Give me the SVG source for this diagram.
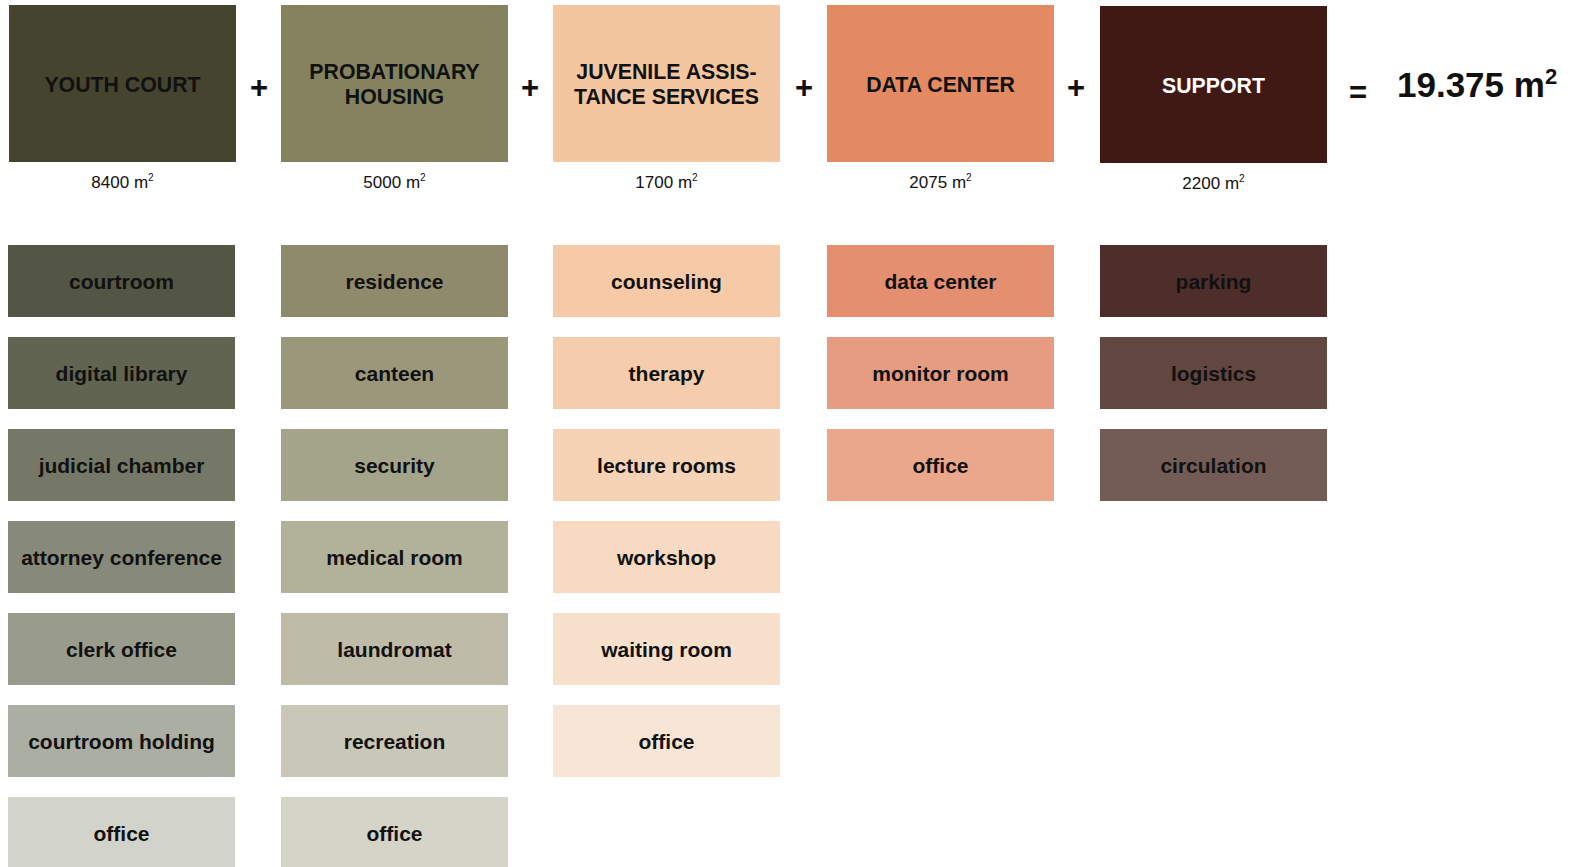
<svg xmlns="http://www.w3.org/2000/svg" width="1572" height="867" viewBox="0 0 1572 867">
<style>
text{font-family:"Liberation Sans",Arial,sans-serif;fill:#111;text-anchor:middle}
.h{font-size:21.3px;font-weight:bold}
.s{font-size:21px;font-weight:bold}
.a{font-size:17px}
.op{font-size:31px;font-weight:bold}
.tot{font-size:35px;font-weight:bold;text-anchor:start}
</style>
<rect width="1572" height="867" fill="#fff"/>
<g id="youth-court">
<rect x="9" y="5" width="227" height="157" fill="#45452f"/>
<text class="h" x="122.5" y="91.5">YOUTH COURT</text>
<text class="a" x="122.5" y="188">8400 m<tspan font-size="10" dy="-7">2</tspan></text>
</g>
<g id="probationary-housing">
<rect x="281" y="5" width="227" height="157" fill="#85835f"/>
<text class="h" x="394.5" y="79">PROBATIONARY</text>
<text class="h" x="394.5" y="104">HOUSING</text>
<text class="a" x="394.5" y="188">5000 m<tspan font-size="10" dy="-7">2</tspan></text>
</g>
<g id="juvenile-assistance">
<rect x="553" y="5" width="227" height="157" fill="#f4c6a0"/>
<text class="h" x="666.5" y="79">JUVENILE ASSIS-</text>
<text class="h" x="666.5" y="104">TANCE SERVICES</text>
<text class="a" x="666.5" y="188">1700 m<tspan font-size="10" dy="-7">2</tspan></text>
</g>
<g id="data-center">
<rect x="827" y="5" width="227" height="157" fill="#e38a62"/>
<text class="h" x="940.5" y="91.5">DATA CENTER</text>
<text class="a" x="940.5" y="188">2075 m<tspan font-size="10" dy="-7">2</tspan></text>
</g>
<g id="support">
<rect x="1100" y="6" width="227" height="157" fill="#411914"/>
<text class="h" x="1213.5" y="92.5" style="fill:#fff">SUPPORT</text>
<text class="a" x="1213.5" y="189">2200 m<tspan font-size="10" dy="-7">2</tspan></text>
</g>
<g id="operators">
<text class="op" x="259" y="98">+</text>
<text class="op" x="530" y="98">+</text>
<text class="op" x="804" y="98">+</text>
<text class="op" x="1076" y="98">+</text>
<text class="op" x="1358" y="103">=</text>
<text class="tot" x="1397" y="97">19.375 m<tspan font-size="22" dy="-13">2</tspan></text>
</g>
<g id="col-youth-court">
<g id="courtroom"><rect x="8" y="245" width="227" height="72" fill="#535644"/><text class="s" x="121.5" y="289">courtroom</text></g>
<g id="digital-library"><rect x="8" y="337" width="227" height="72" fill="#626452"/><text class="s" x="121.5" y="381">digital library</text></g>
<g id="judicial-chamber"><rect x="8" y="429" width="227" height="72" fill="#767867"/><text class="s" x="121.5" y="473">judicial chamber</text></g>
<g id="attorney-conference"><rect x="8" y="521" width="227" height="72" fill="#878a7a"/><text class="s" x="121.5" y="565">attorney conference</text></g>
<g id="clerk-office"><rect x="8" y="613" width="227" height="72" fill="#999b8c"/><text class="s" x="121.5" y="657">clerk office</text></g>
<g id="courtroom-holding"><rect x="8" y="705" width="227" height="72" fill="#abaea2"/><text class="s" x="121.5" y="749">courtroom holding</text></g>
<g id="yc-office"><rect x="8" y="797" width="227" height="72" fill="#d2d4cc"/><text class="s" x="121.5" y="841">office</text></g>
</g>
<g id="col-probationary">
<g id="residence"><rect x="281" y="245" width="227" height="72" fill="#8f8a6c"/><text class="s" x="394.5" y="289">residence</text></g>
<g id="canteen"><rect x="281" y="337" width="227" height="72" fill="#9b977b"/><text class="s" x="394.5" y="381">canteen</text></g>
<g id="security"><rect x="281" y="429" width="227" height="72" fill="#a4a48a"/><text class="s" x="394.5" y="473">security</text></g>
<g id="medical-room"><rect x="281" y="521" width="227" height="72" fill="#b2b19a"/><text class="s" x="394.5" y="565">medical room</text></g>
<g id="laundromat"><rect x="281" y="613" width="227" height="72" fill="#bebca8"/><text class="s" x="394.5" y="657">laundromat</text></g>
<g id="recreation"><rect x="281" y="705" width="227" height="72" fill="#c9c7b8"/><text class="s" x="394.5" y="749">recreation</text></g>
<g id="ph-office"><rect x="281" y="797" width="227" height="72" fill="#d4d4c8"/><text class="s" x="394.5" y="841">office</text></g>
</g>
<g id="col-juvenile">
<g id="counseling"><rect x="553" y="245" width="227" height="72" fill="#f6caa6"/><text class="s" x="666.5" y="289">counseling</text></g>
<g id="therapy"><rect x="553" y="337" width="227" height="72" fill="#f6cdac"/><text class="s" x="666.5" y="381">therapy</text></g>
<g id="lecture-rooms"><rect x="553" y="429" width="227" height="72" fill="#f6d3b5"/><text class="s" x="666.5" y="473">lecture rooms</text></g>
<g id="workshop"><rect x="553" y="521" width="227" height="72" fill="#f6dbc2"/><text class="s" x="666.5" y="565">workshop</text></g>
<g id="waiting-room"><rect x="553" y="613" width="227" height="72" fill="#f7e0cc"/><text class="s" x="666.5" y="657">waiting room</text></g>
<g id="ja-office"><rect x="553" y="705" width="227" height="72" fill="#f7e5d5"/><text class="s" x="666.5" y="749">office</text></g>
</g>
<g id="col-data-center">
<g id="data-center-room"><rect x="827" y="245" width="227" height="72" fill="#e48f70"/><text class="s" x="940.5" y="289">data center</text></g>
<g id="monitor-room"><rect x="827" y="337" width="227" height="72" fill="#e69c80"/><text class="s" x="940.5" y="381">monitor room</text></g>
<g id="dc-office"><rect x="827" y="429" width="227" height="72" fill="#eba78c"/><text class="s" x="940.5" y="473">office</text></g>
</g>
<g id="col-support">
<g id="parking"><rect x="1100" y="245" width="227" height="72" fill="#4e2e2a"/><text class="s" x="1213.5" y="289">parking</text></g>
<g id="logistics"><rect x="1100" y="337" width="227" height="72" fill="#624740"/><text class="s" x="1213.5" y="381">logistics</text></g>
<g id="circulation"><rect x="1100" y="429" width="227" height="72" fill="#735c55"/><text class="s" x="1213.5" y="473">circulation</text></g>
</g>
<g id="connectors"/>
</svg>
